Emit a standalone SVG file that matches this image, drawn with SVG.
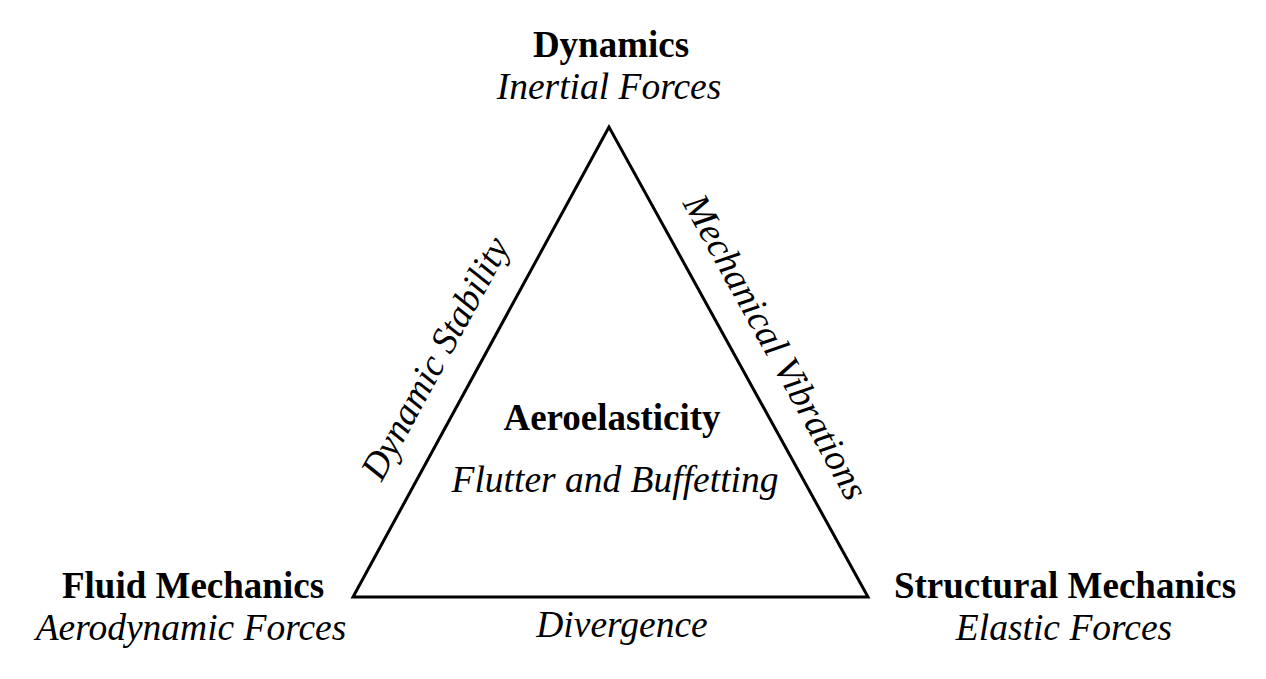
<svg xmlns="http://www.w3.org/2000/svg" width="1266" height="679" viewBox="0 0 1266 679">
<style>
text{font-family:"Liberation Serif","Times New Roman",serif;font-size:37.5px;fill:#000;text-anchor:middle}
.b{font-weight:bold;font-size:37px}
.i{font-style:italic}
</style>
<rect width="1266" height="679" fill="#fff"/>
<g id="connectors">
<polygon points="609,127 353,597 868,597" fill="none" stroke="#000" stroke-width="3" stroke-linejoin="miter"/>
<text class="i" transform="translate(446,364) rotate(-61.4)">Dynamic Stability</text>
<text class="i" transform="translate(765,353) rotate(61.1)">Mechanical Vibrations</text>
<text class="i" x="622" y="637">Divergence</text>
</g>
<g id="dynamics">
<text class="b" x="611" y="57">Dynamics</text>
<text class="i" x="609" y="99">Inertial Forces</text>
</g>
<g id="fluid">
<text class="b" x="193" y="598">Fluid Mechanics</text>
<text class="i" x="191" y="640">Aerodynamic Forces</text>
</g>
<g id="structural">
<text class="b" x="1065" y="598">Structural Mechanics</text>
<text class="i" x="1064" y="640">Elastic Forces</text>
</g>
<g id="aeroelasticity">
<text class="b" x="612" y="430">Aeroelasticity</text>
<text class="i" x="615" y="492">Flutter and Buffetting</text>
</g>
</svg>
